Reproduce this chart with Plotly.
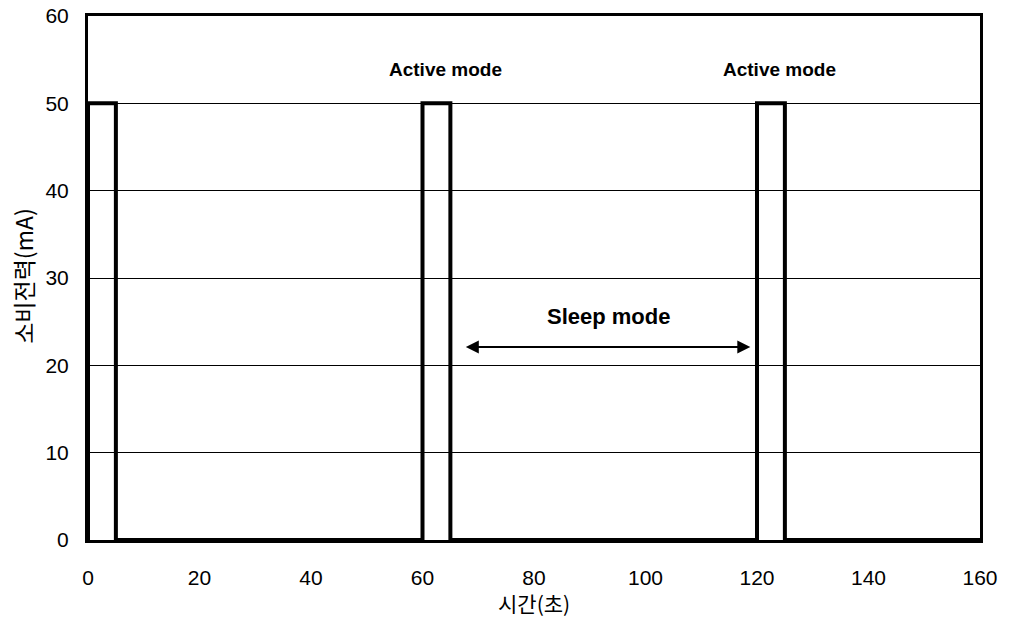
import plotly.graph_objects as go

# Current draw over time: step waveform, 5 s active bursts every 60 s
time_s = [0, 0, 5, 5, 60, 60, 65, 65, 120, 120, 125, 125, 160]
current_ma = [0, 50, 50, 0, 0, 50, 50, 0, 0, 50, 50, 0, 0]

x_ticks = [0, 20, 40, 60, 80, 100, 120, 140, 160]
y_ticks = [0, 10, 20, 30, 40, 50, 60]

x_title = "시간(초)"
y_title = "소비전력(mA)"

mode_labels = ["Active mode", "Active mode", "Sleep mode"]
mode_x = [64.2, 124.0, 93.4]
mode_y = [53.9, 53.9, 25.6]
mode_size = [19, 19, 22]

sleep_span = [67.5, 118.8]
sleep_level = 22.1

fig = go.Figure()
fig.add_trace(go.Scatter(
    x=time_s, y=current_ma, mode="lines",
    line=dict(color="black", width=4, shape="linear"),
    showlegend=False, hoverinfo="skip",
))

for label, lx, ly, fs in zip(mode_labels, mode_x, mode_y, mode_size):
    fig.add_annotation(
        x=lx, y=ly, xref="x", yref="y", text=f"<b>{label}</b>",
        showarrow=False, font=dict(family="Liberation Sans, Arial", size=fs, color="black"),
    )

# Double-headed arrow for the sleep interval
fig.add_annotation(
    x=sleep_span[1], y=sleep_level, ax=sleep_span[0], ay=sleep_level,
    xref="x", yref="y", axref="x", ayref="y", text="",
    showarrow=True, arrowhead=2, startarrowhead=2, arrowside="end+start",
    arrowsize=1.3, startarrowsize=1.3, arrowwidth=2, arrowcolor="black",
)

axis_font = dict(family="Liberation Sans, Arial", size=21, color="black")
xtitle_font = dict(family="Noto Sans CJK KR, sans-serif", size=21, color="black")
ytitle_font = dict(family="Noto Sans CJK KR, sans-serif", size=23, color="black")

# Axis titles placed as paper-anchored text
fig.add_annotation(
    x=0.5, y=-0.121, xref="paper", yref="paper", text=x_title,
    showarrow=False, font=xtitle_font, xanchor="center", yanchor="middle",
    borderpad=0,
)
fig.add_annotation(
    x=-0.073, y=0.504, xref="paper", yref="paper", text=y_title,
    showarrow=False, font=ytitle_font, textangle=-90,
    xanchor="center", yanchor="middle",
)

fig.update_layout(
    width=1009, height=619,
    margin=dict(l=88, r=29, t=16, b=79),
    paper_bgcolor="white", plot_bgcolor="white",
    xaxis=dict(
        range=[0, 160], tickvals=x_ticks, ticktext=[str(v) for v in x_ticks],
        showgrid=False, zeroline=False, automargin=False,
        showline=True, linecolor="black", linewidth=3, mirror=True,
        ticks="", ticklabelstandoff=17, tickfont=axis_font,
    ),
    yaxis=dict(
        range=[0, 60], tickvals=y_ticks, ticktext=[str(v) for v in y_ticks],
        showgrid=True, gridcolor="black", gridwidth=1, zeroline=False, automargin=False,
        showline=True, linecolor="black", linewidth=3, mirror=True,
        ticks="", ticklabelstandoff=12, tickfont=axis_font,
    ),
)

fig.write_html("out.html")
